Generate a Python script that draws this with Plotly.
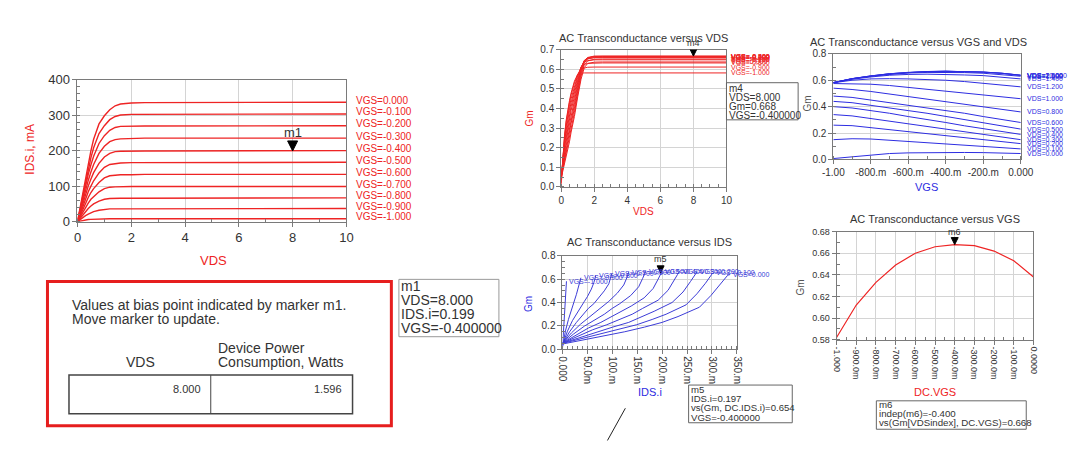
import plotly.graph_objects as go

W, H = 1081, 453

# ---------------- data ----------------
VGS = [0.0, -0.1, -0.2, -0.3, -0.4, -0.5, -0.6, -0.7, -0.8, -0.9, -1.0]
VDS = [0, 0.1, 0.2, 0.3, 0.4, 0.5, 0.6, 0.8, 1.0, 1.2, 1.4, 1.6, 2.0, 2.5, 10]

# drain current (mA), one row per VGS, columns follow VDS
IDS_mA = [
    [0, 42, 84, 125, 165, 200, 232, 275, 298, 315, 326, 331, 334, 335, 336],
    [0, 38, 76, 113, 149, 180, 208, 248, 270, 287, 296, 300, 302, 302, 303],
    [0, 34, 68, 101, 133, 160, 184, 220, 242, 257, 265, 268, 269, 269, 270],
    [0, 30, 60, 89, 116, 140, 161, 192, 212, 225, 231, 233, 234, 235, 235],
    [0, 26, 52, 77, 100, 120, 138, 164, 182, 192, 197, 198, 199, 199, 200],
    [0, 22, 44, 65, 84, 100, 115, 137, 153, 161, 164, 165, 166, 166, 167],
    [0, 18, 36, 53, 68, 82, 93, 110, 123, 129, 131, 132, 132, 133, 133],
    [0, 14, 28, 41, 52, 63, 71, 84, 93, 97, 98, 99, 99, 99, 99],
    [0, 10, 20, 29, 37, 44, 50, 58, 63, 65, 66, 66, 66, 66, 67],
    [0, 6, 12, 17, 21, 25, 28, 32, 35, 36, 36, 36, 36, 36, 37],
    [0, 2, 3.5, 5, 6, 6.5, 7, 7.5, 8, 8, 8, 8, 8, 8, 8],
]

# AC transconductance, one row per VGS, columns follow VDS
GM = [
    [0.045, 0.080, 0.120, 0.150, 0.190, 0.230, 0.280, 0.360, 0.460, 0.550, 0.610, 0.630, 0.637, 0.638, 0.638],
    [0.050, 0.090, 0.135, 0.170, 0.210, 0.255, 0.300, 0.380, 0.475, 0.565, 0.625, 0.643, 0.652, 0.653, 0.653],
    [0.052, 0.100, 0.150, 0.190, 0.230, 0.280, 0.325, 0.400, 0.490, 0.580, 0.635, 0.653, 0.661, 0.662, 0.662],
    [0.053, 0.110, 0.166, 0.210, 0.255, 0.300, 0.350, 0.420, 0.505, 0.590, 0.640, 0.658, 0.666, 0.667, 0.667],
    [0.053, 0.120, 0.182, 0.230, 0.280, 0.325, 0.370, 0.440, 0.520, 0.600, 0.645, 0.661, 0.668, 0.668, 0.668],
    [0.052, 0.130, 0.198, 0.250, 0.300, 0.350, 0.390, 0.460, 0.535, 0.607, 0.646, 0.659, 0.665, 0.666, 0.666],
    [0.050, 0.140, 0.214, 0.270, 0.325, 0.370, 0.410, 0.480, 0.550, 0.610, 0.644, 0.655, 0.660, 0.660, 0.660],
    [0.045, 0.148, 0.230, 0.290, 0.350, 0.390, 0.430, 0.500, 0.560, 0.612, 0.638, 0.645, 0.649, 0.649, 0.649],
    [0.035, 0.155, 0.245, 0.310, 0.370, 0.410, 0.450, 0.515, 0.570, 0.610, 0.625, 0.631, 0.633, 0.633, 0.633],
    [0.020, 0.157, 0.256, 0.330, 0.390, 0.430, 0.470, 0.530, 0.575, 0.600, 0.607, 0.611, 0.612, 0.612, 0.612],
    [0.007, 0.150, 0.260, 0.340, 0.400, 0.440, 0.480, 0.540, 0.575, 0.581, 0.582, 0.582, 0.582, 0.582, 0.582],
]

# marker readouts
M1_VDS, M1_IDS_A, M1_VGS = 8.0, 0.199, -0.4
M4_VDS, M4_GM, M4_VGS = 8.0, 0.668, -0.4
M5_IDS_A, M5_GM, M5_VGS = 0.197, 0.654, -0.4
M6_VGS, M6_GM = -0.4, 0.668
POWER_W = 1.596

Y1_TICKS = [0, 100, 200, 300, 400]
X1_TICKS = [0, 2, 4, 6, 8, 10]
Y2_TICKS = [0.0, 0.1, 0.2, 0.3, 0.4, 0.5, 0.6, 0.7]
Y3_TICKS = [0.0, 0.2, 0.4, 0.6, 0.8]
Y4_TICKS = [0.0, 0.2, 0.4, 0.6, 0.8]
Y5_TICKS = [0.58, 0.60, 0.62, 0.64, 0.66, 0.68]
X3_TICKS = [-1.0, -0.8, -0.6, -0.4, -0.2, 0.0]
X3_TEXT = ["-1.00", "-800.m", "-600.m", "-400.m", "-200.m", "0.000"]
X4_TICKS = [0, 0.05, 0.10, 0.15, 0.20, 0.25, 0.30, 0.35]
X4_TEXT = ["0.000", "50.0m", "100.m", "150.m", "200.m", "250.m", "300.m", "350.m"]
X5_TICKS = [-1.0, -0.9, -0.8, -0.7, -0.6, -0.5, -0.4, -0.3, -0.2, -0.1, 0.0]
X5_TEXT = ["-1.000", "-900.0m", "-800.0m", "-700.0m", "-600.0m", "-500.0m",
           "-400.0m", "-300.0m", "-200.0m", "-100.0m", "0.0000"]

# ---------------- styling ----------------
FONT = "Liberation Sans, Arial, sans-serif"
RED = "rgb(238,36,36)"
BLUE = "rgb(45,45,225)"
BLUE2 = "rgb(60,60,215)"
AXC = "#7a7a7a"
GRID = "#d4d4d4"
TXT = "#333333"


def px(x):
    return x / W


def py(y):
    return 1 - y / H


fig = go.Figure()


def line_trace(x, y, xa, ya, color, width):
    fig.add_trace(go.Scatter(x=x, y=y, mode="lines", xaxis=xa, yaxis=ya,
                             line=dict(color=color, width=width),
                             showlegend=False, hoverinfo="skip"))


def txt(x, y, s, size, color=TXT, xanchor="center", yanchor="middle", angle=0):
    fig.add_annotation(x=px(x), y=py(y), xref="paper", yref="paper", text=s,
                       showarrow=False, xanchor=xanchor, yanchor=yanchor,
                       textangle=angle, borderpad=0,
                       font=dict(size=size, color=color, family=FONT))


def tri(xa, ya, x, y, size):
    h = size
    fig.add_shape(type="path", xref=xa, yref=ya, xsizemode="pixel", ysizemode="pixel",
                  xanchor=x, yanchor=y,
                  path=f"M {-h/2},{h} L {h/2},{h} L 0,0 Z",
                  fillcolor="black", line=dict(color="black", width=1))


def rect(x0, y0, x1, y1, color, width):
    fig.add_shape(type="rect", xref="paper", yref="paper",
                  x0=px(x0), x1=px(x1), y0=py(y1), y1=py(y0),
                  line=dict(color=color, width=width), fillcolor="rgba(0,0,0,0)")


def seg(x0, y0, x1, y1, color, width):
    fig.add_shape(type="line", xref="paper", yref="paper",
                  x0=px(x0), x1=px(x1), y0=py(y0), y1=py(y1),
                  line=dict(color=color, width=width))


# ---- chart 1 : IDS vs VDS ----
for j, v in enumerate(VGS):
    line_trace(VDS, IDS_mA[j], "x", "y", RED, 1.4)
    fig.add_annotation(x=VDS[-1], y=IDS_mA[j][-1], xref="x", yref="y",
                       text=f"VGS={v:.3f}", showarrow=False, xanchor="left",
                       yanchor="middle", xshift=8, yshift=2,
                       font=dict(size=10, color=RED, family=FONT))
tri("x", "y", M1_VDS, M1_IDS_A * 1000, 10)
fig.add_annotation(x=M1_VDS, y=M1_IDS_A * 1000, xref="x", yref="y", text="m1",
                   showarrow=False, yshift=18, font=dict(size=13, color=TXT, family=FONT))

# ---- chart 2 : Gm vs VDS ----
for j, v in enumerate(VGS):
    line_trace(VDS, GM[j], "x2", "y2", RED, 1)
    fig.add_annotation(x=VDS[-1], y=GM[j][-1], xref="x2", yref="y2",
                       text=f"VGS={v:.3f}", showarrow=False, xanchor="left",
                       yanchor="middle", xshift=3,
                       font=dict(size=7, color=RED, family=FONT))
tri("x2", "y2", M4_VDS, M4_GM, 7)
fig.add_annotation(x=M4_VDS, y=M4_GM, xref="x2", yref="y2", text="m4",
                   showarrow=False, yshift=13, font=dict(size=9, color=TXT, family=FONT))

# ---- chart 3 : Gm vs VGS, one curve per VDS ----
for k, d in enumerate(VDS):
    col = [GM[j][k] for j in range(len(VGS))]
    line_trace(VGS, col, "x3", "y3", BLUE, 1)
    fig.add_annotation(x=VGS[0], y=col[0], xref="x3", yref="y3",
                       text=f"VDS={d:.3f}", showarrow=False, xanchor="left",
                       yanchor="middle", xshift=4,
                       font=dict(size=7, color=BLUE, family=FONT))

# ---- chart 4 : Gm vs IDS ----
for j, v in enumerate(VGS):
    ids_a = [i / 1000 for i in IDS_mA[j]]
    line_trace(ids_a, GM[j], "x4", "y4", BLUE2, 1)
    fig.add_annotation(x=ids_a[-1], y=GM[j][-1], xref="x4", yref="y4",
                       text=f"VGS={v:.3f}", showarrow=False, xanchor="left",
                       yanchor="middle", xshift=1,
                       font=dict(size=7, color=BLUE2, family=FONT))
tri("x4", "y4", M5_IDS_A, M5_GM, 7)
fig.add_annotation(x=M5_IDS_A, y=M5_GM, xref="x4", yref="y4", text="m5",
                   showarrow=False, yshift=14, font=dict(size=9, color=TXT, family=FONT))

# ---- chart 5 : Gm vs VGS at bias VDS ----
gm_bias = [GM[j][-1] for j in range(len(VGS))]
line_trace(VGS, gm_bias, "x5", "y5", RED, 1.2)
tri("x5", "y5", M6_VGS, M6_GM, 7)
fig.add_annotation(x=M6_VGS, y=M6_GM, xref="x5", yref="y5", text="m6",
                   showarrow=False, yshift=13, font=dict(size=9, color=TXT, family=FONT))


# ---------------- axes ----------------
def ax(dom, rng, size=10, minor=None, **kw):
    d = dict(domain=dom, range=rng, showline=True, mirror=True, linecolor=AXC,
             linewidth=1, ticks="outside", ticklen=4, tickcolor=AXC,
             showgrid=True, gridcolor=GRID, gridwidth=1, zeroline=False,
             fixedrange=True, tickfont=dict(size=size, color=TXT, family=FONT))
    if minor is not None:
        d["minor"] = dict(dtick=minor, ticks="inside", ticklen=3,
                          tickcolor=AXC, showgrid=False)
    d.update(kw)
    return d


layout = dict(
    width=W, height=H, autosize=False,
    margin=dict(l=0, r=0, t=0, b=0),
    paper_bgcolor="white", plot_bgcolor="white", showlegend=False,
    font=dict(family=FONT),
    xaxis=ax([px(68), px(343)], [0, 10], 13, 1, tickvals=X1_TICKS, anchor="y"),
    yaxis=ax([py(222), py(75)], [0, 400], 13, 20, tickvals=Y1_TICKS, anchor="x"),
    xaxis2=ax([px(562.7), px(731.7)], [0, 10], 10, 0.5, tickvals=X1_TICKS, anchor="y2"),
    yaxis2=ax([py(186), py(44.3)], [0, 0.7], 10, 0.05, tickvals=Y2_TICKS,
              ticktext=[f"{t:.1f}" for t in Y2_TICKS], anchor="x2"),
    xaxis3=ax([px(841), px(1032.7)], [-1, 0], 10, 0.1, tickvals=X3_TICKS,
              ticktext=X3_TEXT, anchor="y3"),
    yaxis3=ax([py(157.7), py(48.3)], [0, 0.801], 10, 0.1, tickvals=Y3_TICKS,
              ticktext=[f"{t:.1f}" for t in Y3_TICKS], anchor="x3"),
    xaxis4=ax([px(564), px(742.3)], [0, 0.35], 10, 0.01, tickvals=X4_TICKS,
              ticktext=X4_TEXT, tickangle=90, anchor="y4"),
    yaxis4=ax([py(354), py(257.3)], [0, 0.8], 10, 0.05, tickvals=Y4_TICKS,
              ticktext=[f"{t:.1f}" for t in Y4_TICKS], anchor="x4"),
    xaxis5=ax([px(844.3), px(1045.7)], [-1, 0], 9, 0.05, tickvals=X5_TICKS,
              ticktext=X5_TEXT, tickangle=90, anchor="y5"),
    yaxis5=ax([py(344), py(232.3)], [0.58, 0.68], 9, 0.01, tickvals=Y5_TICKS,
              ticktext=[f"{t:.2f}" for t in Y5_TICKS], anchor="x5"),
)
fig.update_layout(**layout)

# ---------------- titles / axis labels ----------------
txt(20, 147, "IDS.i, mA", 12, RED, angle=-90)
txt(207, 262, "VDS", 13, RED)

txt(647, 32, "AC Transconductance versus VDS", 11)
txt(530, 115, "Gm", 10, RED, angle=-90)
txt(647, 212, "VDS", 10, RED)

txt(928, 36, "AC Transconductance versus VGS and VDS", 11)
txt(815, 100, "Gm", 10, "#555", angle=-90)
txt(936, 186, "VGS", 11, BLUE)

txt(653, 243, "AC Transconductance versus IDS", 11)
txt(530, 307, "Gm", 10, BLUE, angle=-90)
txt(653, 398, "IDS.i", 11, BLUE)

txt(945, 219, "AC Transconductance versus VGS", 11)
txt(807, 290, "Gm", 10, "#555", angle=-90)
txt(945, 398, "DC.VGS", 11, RED)

# ---------------- bias-point panel ----------------
rect(37.3, 284, 389, 433, "rgb(230,30,30)", 3)
txt(61.7, 308.5, "Values at bias point indicated by marker m1.", 14, xanchor="left")
txt(61.7, 322.5, "Move marker to update.", 14, xanchor="left")
txt(132, 367, "VDS", 14)
txt(211, 353, "Device Power", 14, xanchor="left")
txt(211, 367.5, "Consumption, Watts", 14, xanchor="left")
rect(59.3, 380.7, 349.3, 420.7, "#444", 1.5)
seg(204.3, 380.7, 204.3, 420.7, "#444", 1)
txt(195, 395, f"{M1_VDS:.3f}", 11, xanchor="right")
txt(340, 395, f"{POWER_W:.3f}", 11, xanchor="right")

# m1 readout
rect(396.7, 281.7, 499, 341, "#999", 1)
for i, s in enumerate(["m1", f"VDS={M1_VDS:.3f}", f"IDS.i={M1_IDS_A:.3f}",
                       f"VGS={M1_VGS:.6f}"]):
    txt(398, 289 + i * 14.2, s, 14, xanchor="left")

# m4 readout
rect(731.7, 78.3, 805, 116.7, "#666", 1)
for i, s in enumerate(["m4", f"VDS={M4_VDS:.3f}", f"Gm={M4_GM:.3f}",
                       f"VGS={M4_VGS:.6f}"]):
    txt(733, 84.3 + i * 9.4, s, 10, xanchor="left")

# m5 readout
rect(693, 391, 799, 430, "#666", 1)
for i, s in enumerate(["m5", f"IDS.i={M5_IDS_A:.3f}", f"vs(Gm, DC.IDS.i)={M5_GM:.3f}",
                       f"VGS={M5_VGS:.6f}"]):
    txt(694.5, 395.5 + i * 9.6, s, 9.6, xanchor="left")

# m6 readout
rect(885, 407.3, 1038.3, 436.7, "#666", 1)
for i, s in enumerate(["m6", f"indep(m6)={M6_VGS:.3f}",
                       f"vs(Gm[VDSindex], DC.VGS)={M6_GM:.3f}"]):
    txt(886.5, 411 + i * 9.6, s, 9.7, xanchor="left")

# stray connector line
seg(628.3, 415, 610, 448.3, "#222", 1)

fig.write_html("out.html")
